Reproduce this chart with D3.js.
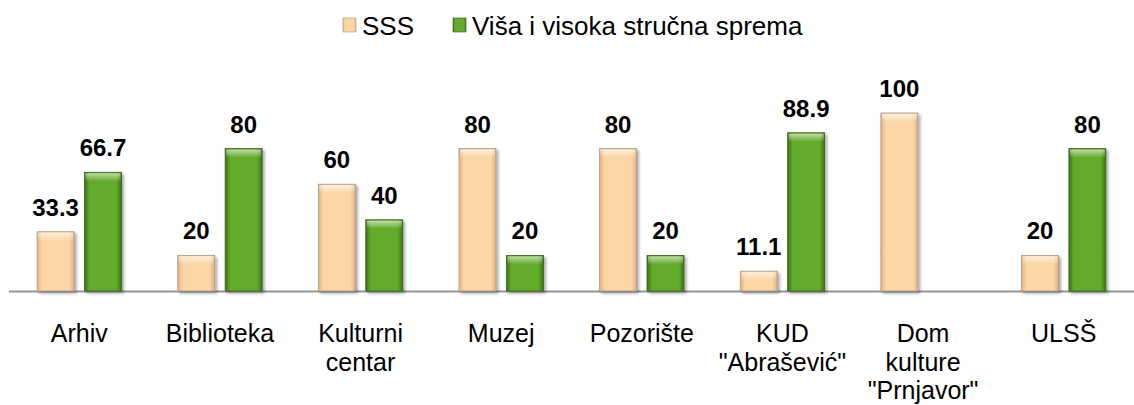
<!DOCTYPE html>
<html>
<head>
<meta charset="utf-8">
<script src="https://cdn.jsdelivr.net/npm/d3@7"></script>
<style>
  body { margin: 0; background: #fff; }
  text { font-family: Arial, "Liberation Sans", sans-serif; }
</style>
</head>
<body>
<script>
// data
var categories = ["Arhiv", "Biblioteka", "Kulturni\ncentar", "Muzej", "Pozorište", "KUD\n\"Abrašević\"", "Dom\nkulture\n\"Prnjavor\"", "ULSŠ"];
var seriesNames = ["SSS", "Viša i visoka stručna sprema"];
var sssValues = [33.3, 20, 60, 80, 80, 11.1, 100, 20];
var vssValues = [66.7, 80, 40, 20, 20, 88.9, 0, 80];

(function(){
var W = 1134, H = 405;
var svg = d3.select("body").append("svg").attr("width", W).attr("height", H);
var defs = svg.append("defs");

// horizontal gradients give the bars their rounded/bevelled look
function hGrad(id, edge, mid) {
  var g = defs.append("linearGradient").attr("id", id).attr("x1", 0).attr("x2", 1).attr("y1", 0).attr("y2", 0);
  g.append("stop").attr("offset", "0%").attr("stop-color", edge);
  g.append("stop").attr("offset", "14%").attr("stop-color", mid);
  g.append("stop").attr("offset", "86%").attr("stop-color", mid);
  g.append("stop").attr("offset", "100%").attr("stop-color", edge);
}
hGrad("gSSS", "#e2b27e", "#fcd6a6");
hGrad("gVSS", "#3a7414", "#63ab2c");

var topGrad = defs.append("linearGradient").attr("id", "gTop").attr("x1", 0).attr("x2", 0).attr("y1", 0).attr("y2", 1);
topGrad.append("stop").attr("offset", "0%").attr("stop-color", "#fff").attr("stop-opacity", 0.6);
topGrad.append("stop").attr("offset", "100%").attr("stop-color", "#fff").attr("stop-opacity", 0);

var shadow = defs.append("filter").attr("id", "shadow").attr("x", "-20%").attr("y", "-10%").attr("width", "150%").attr("height", "130%");
shadow.append("feDropShadow").attr("dx", 2).attr("dy", 2).attr("stdDeviation", 1.5)
  .attr("flood-color", "#000").attr("flood-opacity", 0.35);

// scales
var x0 = d3.scaleBand().domain(categories).range([9, W]);
var x1 = d3.scaleBand().domain(seriesNames)
  .range([x0.bandwidth() * 0.2, x0.bandwidth() * 0.8]).paddingInner(0.22);
var y = d3.scaleLinear().domain([0, 100]).range([291, 113]);

var fills = { "SSS": "url(#gSSS)", "Viša i visoka stručna sprema": "url(#gVSS)" };
var strokes = { "SSS": "#a89a8a", "Viša i visoka stručna sprema": "#3a5f22" };

// flatten into rows
var rows = [];
categories.forEach(function(c, i) {
  rows.push({ cat: c, s: seriesNames[0], v: sssValues[i] });
  rows.push({ cat: c, s: seriesNames[1], v: vssValues[i] });
});
var drawn = rows.filter(function(d) { return d.v > 0; });

// axis baseline
svg.append("line")
  .attr("x1", x0.range()[0]).attr("x2", W)
  .attr("y1", y(0) + 0.5).attr("y2", y(0) + 0.5)
  .attr("stroke", "#959595").attr("stroke-width", 2);

var bars = svg.selectAll(".bar").data(drawn).enter().append("g").attr("class", "bar");

bars.append("rect")
  .attr("x", function(d) { return x0(d.cat) + x1(d.s); })
  .attr("y", function(d) { return y(d.v); })
  .attr("width", x1.bandwidth())
  .attr("height", function(d) { return y(0) - y(d.v); })
  .attr("fill", function(d) { return fills[d.s]; })
  .attr("stroke", function(d) { return strokes[d.s]; })
  .attr("stroke-width", 0.8)
  .attr("filter", "url(#shadow)");

// top highlight
bars.append("rect")
  .attr("x", function(d) { return x0(d.cat) + x1(d.s) + 1; })
  .attr("y", function(d) { return y(d.v) + 1; })
  .attr("width", x1.bandwidth() - 2)
  .attr("height", function(d) { return Math.min(8, y(0) - y(d.v) - 2); })
  .attr("fill", "url(#gTop)");

// value labels
svg.selectAll(".val").data(drawn).enter().append("text")
  .attr("class", "val")
  .attr("x", function(d) { return x0(d.cat) + x1(d.s) + x1.bandwidth() / 2; })
  .attr("y", function(d) { return y(d.v) - 16; })
  .attr("text-anchor", "middle")
  .attr("font-size", 24).attr("font-weight", "bold").attr("fill", "#000")
  .text(function(d) { return d.v; });

// category labels
var catLab = svg.selectAll(".cat").data(categories).enter().append("text")
  .attr("class", "cat")
  .attr("text-anchor", "middle")
  .attr("font-size", 25).attr("fill", "#000");
catLab.selectAll("tspan").data(function(d) {
    return d.split("\n").map(function(t, i) { return { t: t, i: i, c: d }; });
  }).enter().append("tspan")
  .attr("x", function(d) { return x0(d.c) + x0.bandwidth() / 2; })
  .attr("y", function(d) { return 342 + d.i * 28.5; })
  .text(function(d) { return d.t; });

// legend
var legendX = [343, 453];
var leg = svg.selectAll(".leg").data(seriesNames).enter().append("g")
  .attr("class", "leg")
  .attr("transform", function(d, i) { return "translate(" + legendX[i] + ",0)"; });
leg.append("rect")
  .attr("x", 0).attr("y", 18).attr("width", 13).attr("height", 14)
  .attr("fill", function(d) { return fills[d]; })
  .attr("stroke", function(d) { return strokes[d]; }).attr("stroke-width", 0.6);
leg.append("text")
  .attr("x", 19).attr("y", 35)
  .attr("font-size", 26).attr("fill", "#000")
  .text(function(d) { return d; });
})();
</script>
</body>
</html>
